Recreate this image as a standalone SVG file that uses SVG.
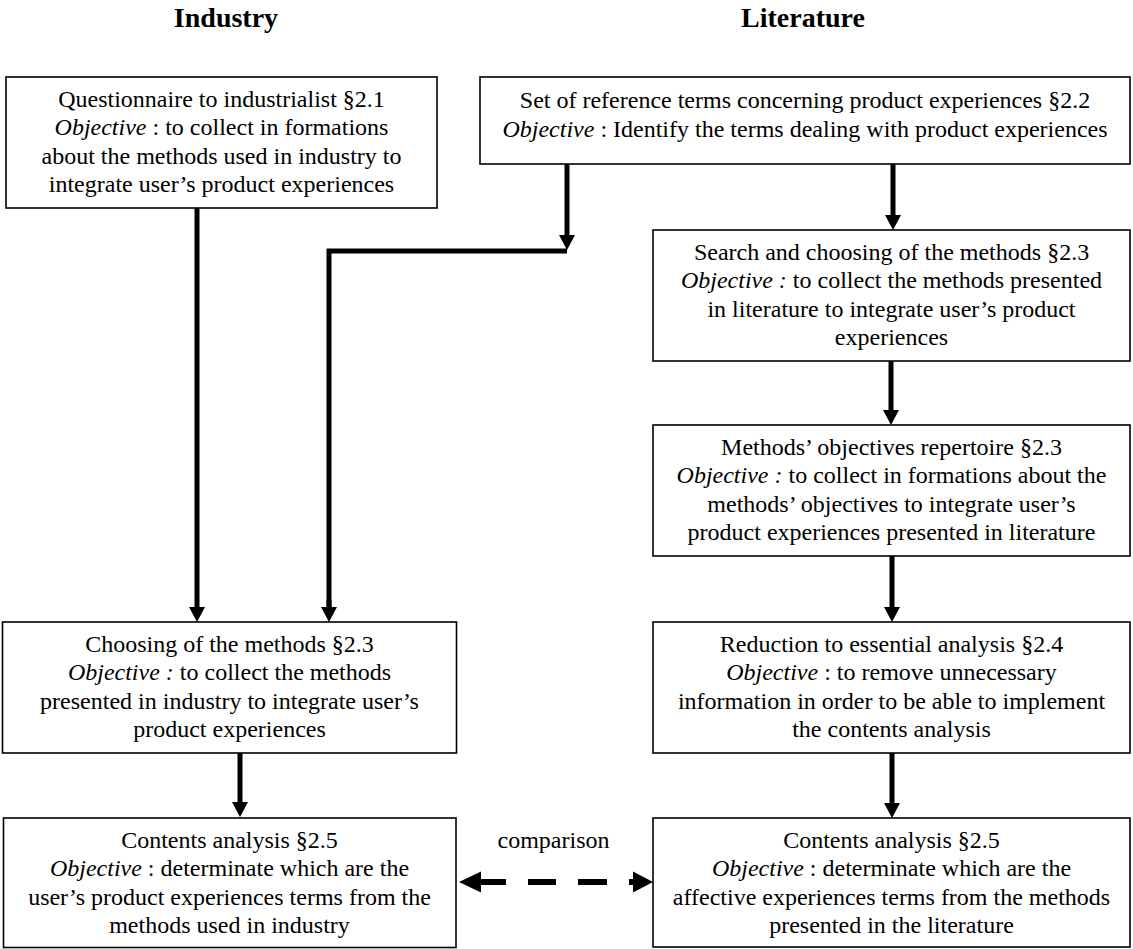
<svg xmlns="http://www.w3.org/2000/svg" width="1133" height="949" viewBox="0 0 1133 949">
<style>
text{font-family:"Liberation Serif","Times New Roman",serif;font-size:24px;fill:#000;text-anchor:middle}
.hd{font-size:28px;font-weight:bold}
.box{fill:#fff;stroke:#000;stroke-width:1.6}
.con{fill:none;stroke:#000;stroke-width:5;stroke-linejoin:miter}
.dash{fill:none;stroke:#000;stroke-width:6}
.it{font-style:italic}
</style>
<defs>
<marker id="ah" markerUnits="userSpaceOnUse" markerWidth="15" markerHeight="16" viewBox="0 -8 15 16" refX="1" refY="0" orient="auto">
<path d="M0,-8 L15,0 L0,8 z" fill="#000"/>
</marker>
</defs>
<rect width="1133" height="949" fill="#fff"/>
<g id="headers">
<text class="hd" x="226" y="27">Industry</text>
<text class="hd" x="803" y="27">Literature</text>
</g>
<g id="connectors">
<path class="con" d="M197,208 V608" marker-end="url(#ah)"/>
<path class="con" d="M567,164 V236" marker-end="url(#ah)"/>
<path class="con" d="M567,251 H329 V608"/>
<path class="con" d="M329,600 V608" marker-end="url(#ah)"/>
<path class="con" d="M893,164 V216" marker-end="url(#ah)"/>
<path class="con" d="M891,361 V411" marker-end="url(#ah)"/>
<path class="con" d="M892,556 V608" marker-end="url(#ah)"/>
<path class="con" d="M892,753 V804" marker-end="url(#ah)"/>
<path class="con" d="M240,753 V803" marker-end="url(#ah)"/>
<g id="comparison">
<path d="M459,882 L481,871.5 L481,892.5 z" fill="#000"/>
<path d="M653,882 L633,871.5 L633,892.5 z" fill="#000"/>
<path class="dash" d="M480,882 H506 M528,882 H556 M578,882 H607 M629,882 H634"/>
<text x="553.5" y="848">comparison</text>
</g>
</g>
<g id="n1">
<rect class="box" x="6" y="77" width="431" height="131"/>
<text x="221.5" y="107">Questionnaire to industrialist §2.1</text>
<text x="221.5" y="135.3"><tspan class="it">Objective</tspan> : to collect in formations</text>
<text x="221.5" y="163.6">about the methods used in industry to</text>
<text x="221.5" y="191.9">integrate user’s product experiences</text>
</g>
<g id="n2">
<rect class="box" x="480" y="77" width="650" height="87"/>
<text x="805" y="108">Set of reference terms concerning product experiences §2.2</text>
<text x="805" y="136.5"><tspan class="it">Objective</tspan> : Identify the terms dealing with product experiences</text>
</g>
<g id="n3">
<rect class="box" x="653" y="230" width="477" height="131"/>
<text x="891.5" y="260">Search and choosing of the methods §2.3</text>
<text x="891.5" y="288.3"><tspan class="it">Objective :</tspan> to collect the methods presented</text>
<text x="891.5" y="316.6">in literature to integrate user’s product</text>
<text x="891.5" y="344.9">experiences</text>
</g>
<g id="n4">
<rect class="box" x="653" y="425" width="477" height="131"/>
<text x="891.5" y="455">Methods’ objectives repertoire §2.3</text>
<text x="891.5" y="483.3"><tspan class="it">Objective :</tspan> to collect in formations about the</text>
<text x="891.5" y="511.6">methods’ objectives to integrate user’s</text>
<text x="891.5" y="539.9">product experiences presented in literature</text>
</g>
<g id="n5">
<rect class="box" x="653" y="622" width="477" height="131"/>
<text x="891.5" y="652">Reduction to essential analysis §2.4</text>
<text x="891.5" y="680.3"><tspan class="it">Objective</tspan> : to remove unnecessary</text>
<text x="891.5" y="708.6">information in order to be able to implement</text>
<text x="891.5" y="736.9">the contents analysis</text>
</g>
<g id="n6">
<rect class="box" x="2.5" y="622" width="454" height="131"/>
<text x="229.5" y="652">Choosing of the methods §2.3</text>
<text x="229.5" y="680.3"><tspan class="it">Objective :</tspan> to collect the methods</text>
<text x="229.5" y="708.6">presented in industry to integrate user’s</text>
<text x="229.5" y="736.9">product experiences</text>
</g>
<g id="n7">
<rect class="box" x="3.5" y="818" width="452.5" height="129.5"/>
<text x="229.5" y="848">Contents analysis §2.5</text>
<text x="229.5" y="876.3"><tspan class="it">Objective</tspan> : determinate which are the</text>
<text x="229.5" y="904.6">user’s product experiences terms from the</text>
<text x="229.5" y="932.9">methods used in industry</text>
</g>
<g id="n8">
<rect class="box" x="653" y="818" width="477" height="129"/>
<text x="891.5" y="848">Contents analysis §2.5</text>
<text x="891.5" y="876.3"><tspan class="it">Objective</tspan> : determinate which are the</text>
<text x="891.5" y="904.6">affective experiences terms from the methods</text>
<text x="891.5" y="932.9">presented in the literature</text>
</g>
</svg>
